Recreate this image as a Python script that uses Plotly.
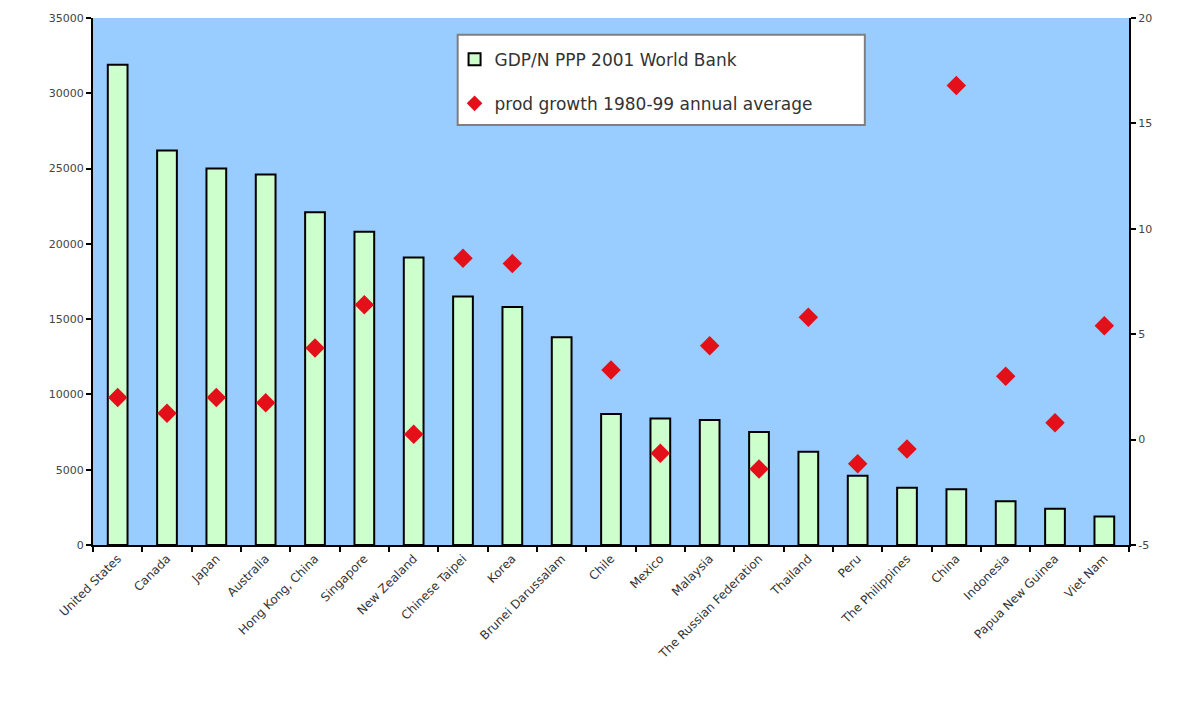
import plotly.graph_objects as go

countries = ["United States", "Canada", "Japan", "Australia", "Hong Kong, China",
             "Singapore", "New Zealand", "Chinese Taipei", "Korea", "Brunei Darussalam",
             "Chile", "Mexico", "Malaysia", "The Russian Federation", "Thailand", "Peru",
             "The Philippines", "China", "Indonesia", "Papua New Guinea", "Viet Nam"]
gdp_ppp = [31900, 26200, 25000, 24600, 22100, 20800, 19100, 16500, 15800, 13800,
           8700, 8400, 8300, 7500, 6200, 4600, 3800, 3700, 2900, 2400, 1900]
prod_growth = [2.0, 1.25, 2.0, 1.75, 4.35, 6.4, 0.25, 8.6, 8.35, None,
               3.3, -0.65, 4.45, -1.4, 5.8, -1.15, -0.45, 16.8, 3.0, 0.8, 5.4]

left_ticks = [0, 5000, 10000, 15000, 20000, 25000, 30000, 35000]
right_ticks = [-5, 0, 5, 10, 15, 20]

bar_name = "GDP/N PPP 2001 World Bank"
dot_name = "prod growth 1980-99 annual average"

fig = go.Figure()
fig.add_trace(go.Bar(
    x=countries, y=gdp_ppp, name=bar_name, width=0.4, legendgroup="a",
    marker=dict(color="#CCFFCC", line=dict(color="#000000", width=2)),
))
fig.add_trace(go.Scatter(
    x=countries, y=prod_growth, name=dot_name, mode="markers", yaxis="y2",
    legendgroup="b",
    marker=dict(symbol="diamond", size=15, color="#E3101A", line=dict(width=0)),
))

axis_font = dict(family="DejaVu Sans", size=11, color="#444444")
x_font = dict(family="DejaVu Sans", size=12, color="#333333")

fig.update_layout(
    width=1175, height=687,
    margin=dict(l=85, r=54, t=10, b=150, autoexpand=False),
    paper_bgcolor="#FFFFFF",
    plot_bgcolor="#99CCFF",
    showlegend=True,
    xaxis=dict(
        type="category", tickangle=-45, tickfont=x_font, automargin=False,
        showline=True, linecolor="#000000", linewidth=2,
        ticks="outside", tickson="boundaries", ticklen=5, tickwidth=2, tickcolor="#000000",
        showgrid=False, zeroline=False,
        range=[-0.5, len(countries) - 0.5],
    ),
    yaxis=dict(
        range=[0, 35000], tickvals=left_ticks, ticktext=[str(v) for v in left_ticks],
        tickfont=axis_font, automargin=False,
        showline=True, linecolor="#000000", linewidth=2,
        ticks="outside", ticklen=5, tickwidth=2, tickcolor="#000000",
        showgrid=False, zeroline=False,
    ),
    yaxis2=dict(
        range=[-5, 20], tickvals=right_ticks, ticktext=[str(v) for v in right_ticks],
        tickfont=axis_font, overlaying="y", side="right", automargin=False,
        showline=True, linecolor="#000000", linewidth=2,
        ticks="outside", ticklen=5, tickwidth=2, tickcolor="#000000",
        showgrid=False, zeroline=False,
    ),
    legend=dict(
        x=0.349, y=0.955, xanchor="left", yanchor="top",
        bgcolor="rgba(0,0,0,0)", borderwidth=0, traceorder="grouped",
        font=dict(family="DejaVu Sans", size=17, color="#333333"),
        tracegroupgap=19, itemsizing="constant", itemwidth=30,
    ),
    shapes=[dict(
        type="rect", xref="paper", yref="paper",
        x0=0.352, x1=0.745, y0=0.797, y1=0.968,
        fillcolor="#FFFFFF", line=dict(color="#7F7F7F", width=2), layer="above",
    )],
)
fig.write_html("out.html")
